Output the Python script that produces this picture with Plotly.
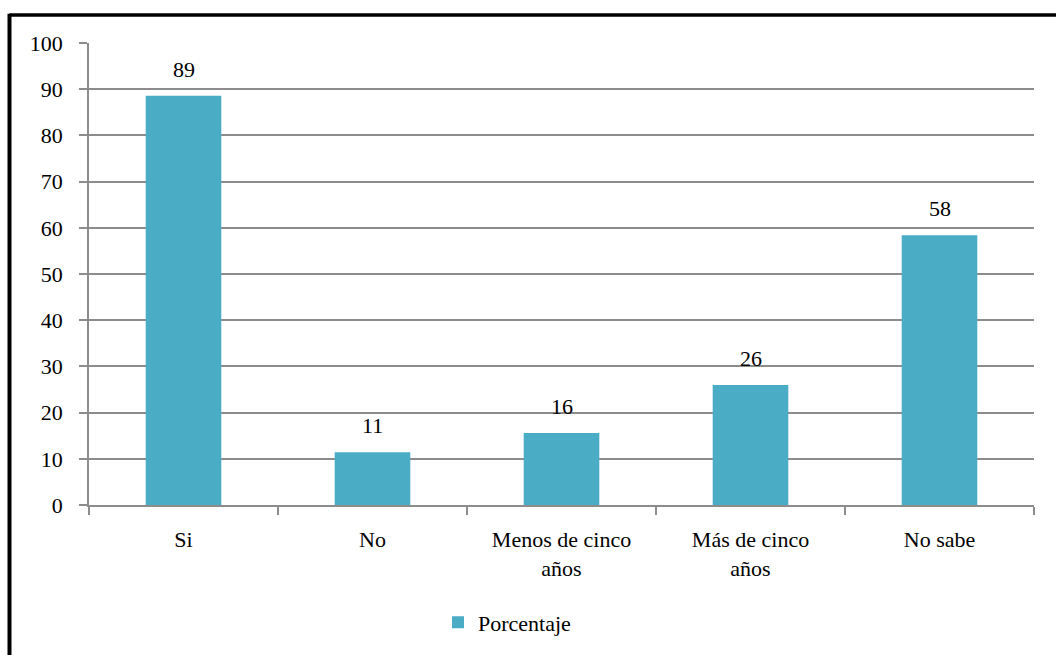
import plotly.graph_objects as go

categories = ["Si", "No", "Menos de cinco<br>años", "Más de cinco<br>años", "No sabe"]
values = [88.6, 11.4, 15.6, 26.0, 58.4]
series_name = "Porcentaje"

BAR = "#4BACC6"
GRID = "#8C8C8C"
FONT = "Liberation Serif"
FS = 22

W, H = 1056, 655
L, R, T, B = 89, 22, 43, 148
pw, ph = W - L - R, H - T - B

def px_x(px):
    return (px - L) / pw

def px_y(py):
    return (H - B - py) / ph

fig = go.Figure()
fig.add_trace(go.Bar(
    x=categories, y=values, name=series_name,
    marker=dict(color=BAR, line=dict(width=0)),
    showlegend=True,
))

for c, v in zip(categories, values):
    fig.add_annotation(x=c, y=v, text=f"{v:.0f}", showarrow=False,
                       yanchor="bottom", yshift=12,
                       font=dict(family=FONT, size=FS, color="#000"))

fig.update_layout(
    width=W, height=H,
    margin=dict(l=L, r=R, t=T, b=B),
    paper_bgcolor="white", plot_bgcolor="white",
    font=dict(family=FONT, size=FS, color="#000"),
    bargap=0.6,
    legend=dict(orientation="h", x=px_x(438), xanchor="left",
                y=px_y(625), yanchor="middle",
                font=dict(family=FONT, size=FS), itemwidth=30,
                bgcolor="rgba(0,0,0,0)"),
    shapes=[
        dict(type="line", xref="paper", yref="paper",
             x0=px_x(9.5), x1=px_x(1070), y0=px_y(15), y1=px_y(15),
             line=dict(color="black", width=3.5)),
        dict(type="line", xref="paper", yref="paper",
             x0=px_x(9.5), x1=px_x(9.5), y0=px_y(13.5), y1=px_y(670),
             line=dict(color="black", width=4)),
    ],
)
fig.update_yaxes(range=[0, 100], dtick=10, showgrid=True, gridcolor=GRID, gridwidth=1.5,
                 showline=True, linecolor=GRID, linewidth=1.5,
                 ticks="outside", ticklen=8, tickcolor=GRID, tickwidth=1.5,
                 ticklabelstandoff=12, zeroline=False, fixedrange=True)
fig.update_xaxes(showline=True, linecolor=GRID, linewidth=1.5,
                 ticks="outside", ticklen=8, tickcolor=GRID, tickwidth=1.5,
                 tickson="boundaries", showgrid=False, ticklabelstandoff=14,
                 fixedrange=True)

fig.write_html("out.html", config={"displayModeBar": False},
               post_script="document.body.style.margin='0px';document.body.style.overflow='hidden';")
